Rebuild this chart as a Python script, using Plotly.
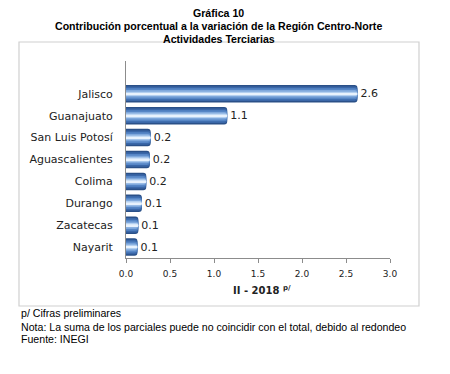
import plotly.graph_objects as go

# Data (top to bottom as in the reference)
estados = ["Jalisco", "Guanajuato", "San Luis Potosí", "Aguascalientes",
           "Colima", "Durango", "Zacatecas", "Nayarit"]
contribucion = [2.63, 1.15, 0.28, 0.27, 0.23, 0.18, 0.14, 0.13]
etiquetas = ["2.6", "1.1", "0.2", "0.2", "0.2", "0.1", "0.1", "0.1"]
x_ticks = [0.0, 0.5, 1.0, 1.5, 2.0, 2.5, 3.0]

titulo = ["Gráfica 10",
          "Contribución porcentual a la variación de la Región Centro-Norte",
          "Actividades Terciarias"]
notas = ["p/ Cifras preliminares",
         "Nota: La suma de los parciales puede no coincidir con el total, debido al redondeo",
         "Fuente: INEGI"]

fig = go.Figure()

# layered bars to imitate the cylinder shading
layers = [
    (0.80, "#2a5088"),
    (0.66, "#3a67a8"),
    (0.50, "#5686c6"),
    (0.34, "#7fa8dc"),
    (0.20, "#b4d0f0"),
    (0.08, "#e8f2fd"),
]
for i, (w, c) in enumerate(layers):
    fig.add_trace(go.Bar(
        x=contribucion, y=estados, orientation="h", width=w,
        marker=dict(color=c, line=dict(width=0), cornerradius=3),
        text=etiquetas if i == 0 else None,
        textposition="outside" if i == 0 else "none",
        textfont=dict(family="DejaVu Sans", size=11, color="#222222"),
        cliponaxis=False, hoverinfo="skip", showlegend=False,
    ))

H = 197.0  # plot height px
W = 264.0  # plot width px
def py(p):
    return (258 - p) / H
def px(p):
    return (p - 126) / W

annotations = []
for t, yy in zip(titulo, [13, 26, 38.5]):
    annotations.append(dict(text="<b>%s</b>" % t, x=px(218.5), y=py(yy), xref="paper", yref="paper",
                            xanchor="center", yanchor="middle", showarrow=False,
                            font=dict(family="Liberation Sans", size=10.6, color="#000000")))
for t, yy in zip(notas, [313, 326.5, 338.5]):
    annotations.append(dict(text=t, x=px(19), y=py(yy), xref="paper", yref="paper",
                            xanchor="left", yanchor="middle", showarrow=False,
                            font=dict(family="Liberation Sans", size=10.6, color="#000000")))
annotations.append(dict(text="<b>II - 2018 <sup>p/</sup></b>", x=px(262), y=py(290),
                        xref="paper", yref="paper", xanchor="center", yanchor="middle",
                        showarrow=False,
                        font=dict(family="DejaVu Sans", size=10, color="#222222")))

# page has an 8px body margin, so the figure is 8px smaller and margins shifted
fig.update_layout(
    width=442, height=366,
    margin=dict(l=118, r=60, t=53, b=116),
    paper_bgcolor="white", plot_bgcolor="white",
    barmode="overlay",
    annotations=annotations,
    shapes=[dict(type="rect", xref="paper", yref="paper",
                 x0=px(19), x1=px(419), y0=py(306), y1=py(42),
                 line=dict(color="#d0d0d0", width=1.2), layer="below")],
    xaxis=dict(range=[0, 3.0], tickvals=x_ticks, tickformat=".1f",
               showgrid=False, zeroline=False, showline=True, linecolor="#8c8c8c",
               ticks="outside", ticklen=4, tickcolor="#8c8c8c", ticklabelstandoff=3,
               tickfont=dict(family="DejaVu Sans", size=9, color="#222222")),
    yaxis=dict(type="category", categoryorder="array", categoryarray=estados[::-1],
               range=[-0.5, 8.5], showgrid=False, zeroline=False,
               showline=True, linecolor="#8c8c8c", ticks="", ticklabelstandoff=10,
               tickfont=dict(family="DejaVu Sans", size=11, color="#222222")),
)

fig.write_html("out.html")
